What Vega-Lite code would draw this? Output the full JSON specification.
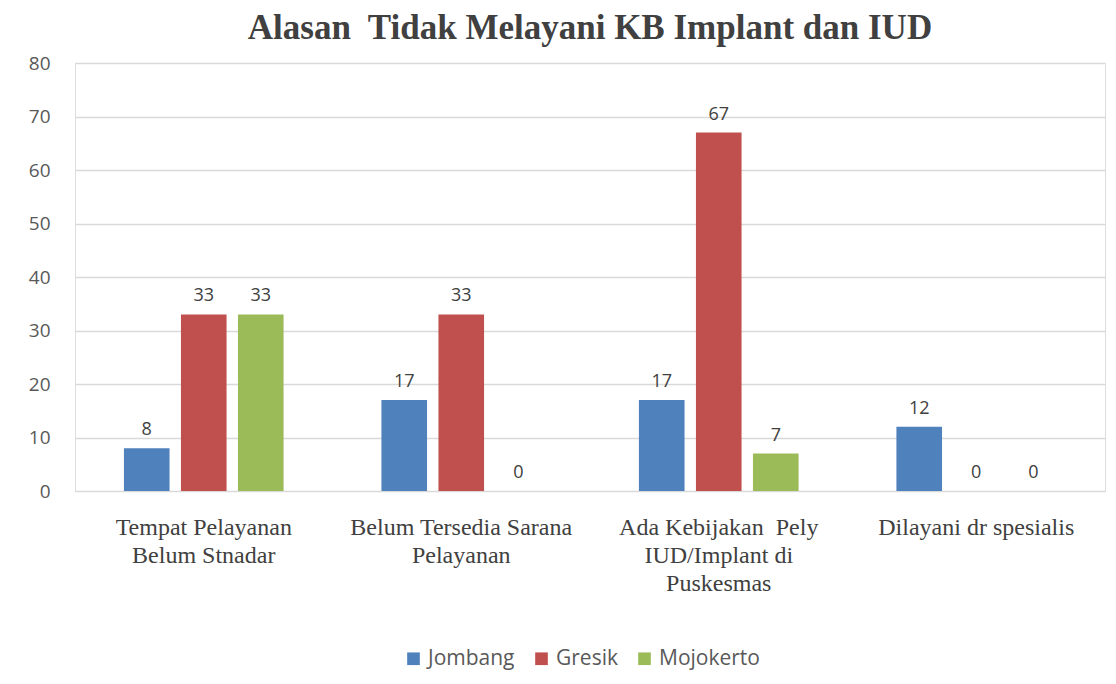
{
  "$schema": "https://vega.github.io/schema/vega-lite/v6.json",
  "width": 1030,
  "height": 428,
  "autosize": {"type": "none"},
  "padding": {"left": 75, "top": 63, "right": 11, "bottom": 193},
  "background": "white",
  "title": {
    "text": "Alasan\u00a0 Tidak Melayani KB Implant dan IUD",
    "font": "Liberation Serif",
    "fontSize": 35,
    "fontWeight": "bold",
    "color": "#404040",
    "anchor": "middle",
    "offset": 8
  },
  "data": {
    "values": [
      {"alasan": "Tempat Pelayanan Belum Stnadar", "kab": "Jombang", "nilai": 8},
      {"alasan": "Tempat Pelayanan Belum Stnadar", "kab": "Gresik", "nilai": 33},
      {"alasan": "Tempat Pelayanan Belum Stnadar", "kab": "Mojokerto", "nilai": 33},
      {"alasan": "Belum Tersedia Sarana Pelayanan", "kab": "Jombang", "nilai": 17},
      {"alasan": "Belum Tersedia Sarana Pelayanan", "kab": "Gresik", "nilai": 33},
      {"alasan": "Belum Tersedia Sarana Pelayanan", "kab": "Mojokerto", "nilai": 0},
      {"alasan": "Ada Kebijakan  Pely IUD/Implant di Puskesmas", "kab": "Jombang", "nilai": 17},
      {"alasan": "Ada Kebijakan  Pely IUD/Implant di Puskesmas", "kab": "Gresik", "nilai": 67},
      {"alasan": "Ada Kebijakan  Pely IUD/Implant di Puskesmas", "kab": "Mojokerto", "nilai": 7},
      {"alasan": "Dilayani dr spesialis", "kab": "Jombang", "nilai": 12},
      {"alasan": "Dilayani dr spesialis", "kab": "Gresik", "nilai": 0},
      {"alasan": "Dilayani dr spesialis", "kab": "Mojokerto", "nilai": 0}
    ]
  },
  "encoding": {
    "x": {
      "field": "alasan",
      "type": "nominal",
      "sort": null,
      "scale": {"paddingInner": 0.38, "paddingOuter": 0.19},
      "axis": {
        "title": null,
        "labelAngle": 0,
        "domain": false,
        "ticks": false,
        "labelFont": "Liberation Serif",
        "labelFontSize": 24,
        "labelColor": "#404040",
        "labelLineHeight": 28,
        "labelPadding": 24,
        "labelLimit": 300,
        "labelExpr": "datum.value == 'Tempat Pelayanan Belum Stnadar' ? ['Tempat Pelayanan', 'Belum Stnadar'] : datum.value == 'Belum Tersedia Sarana Pelayanan' ? ['Belum Tersedia Sarana', 'Pelayanan'] : datum.value == 'Ada Kebijakan  Pely IUD/Implant di Puskesmas' ? ['Ada Kebijakan\u00a0 Pely', 'IUD/Implant di', 'Puskesmas'] : datum.value"
      }
    },
    "xOffset": {
      "field": "kab",
      "type": "nominal",
      "sort": ["Jombang", "Gresik", "Mojokerto"],
      "scale": {"paddingInner": 0.2, "paddingOuter": 0}
    },
    "y": {
      "field": "nilai",
      "type": "quantitative",
      "scale": {"domain": [0, 80]},
      "axis": {
        "title": null,
        "values": [0, 10, 20, 30, 40, 50, 60, 70, 80],
        "domain": false,
        "ticks": false,
        "gridColor": "#d9d9d9",
        "gridWidth": 1.3,
        "labelFont": "Open Sans",
        "labelFontSize": 19,
        "labelColor": "#595959",
        "labelPadding": 25
      }
    }
  },
  "layer": [
    {
      "mark": {"type": "bar"},
      "encoding": {
        "color": {
          "field": "kab",
          "type": "nominal",
          "sort": ["Jombang", "Gresik", "Mojokerto"],
          "scale": {"domain": ["Jombang", "Gresik", "Mojokerto"], "range": ["#4F81BD", "#C0504D", "#9BBB59"]},
          "legend": {
            "title": null,
            "orient": "none",
            "legendX": 328,
            "legendY": 585,
            "direction": "horizontal",
            "symbolType": "square",
            "symbolSize": 160,
            "symbolStrokeWidth": 0,
            "labelFont": "Open Sans",
            "labelFontSize": 21,
            "labelColor": "#595959",
            "columnPadding": 16
          }
        }
      }
    },
    {
      "mark": {"type": "text", "baseline": "bottom", "dy": -9, "font": "Open Sans", "fontSize": 18, "color": "#404040"},
      "encoding": {
        "text": {"field": "nilai", "type": "quantitative"}
      }
    }
  ]
}
